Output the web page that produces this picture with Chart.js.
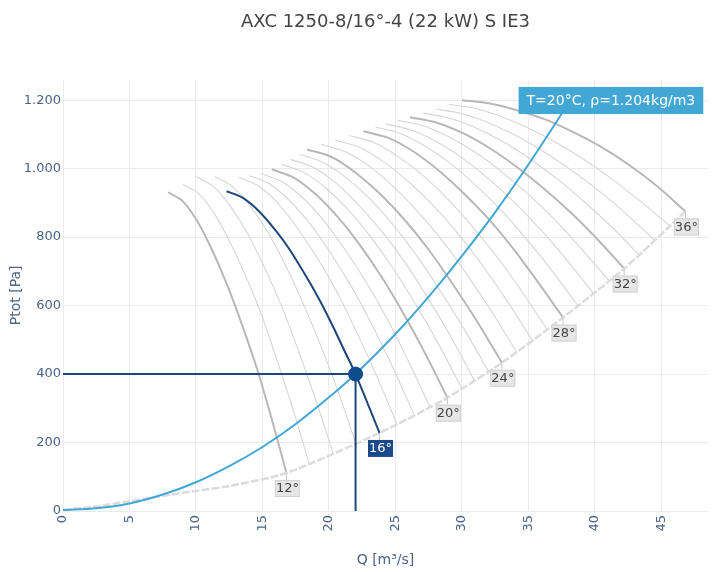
<!DOCTYPE html>
<html>
<head>
<meta charset="utf-8">
<script src="https://cdn.jsdelivr.net/npm/chart.js@4.4.1/dist/chart.umd.min.js"></script>
<style>
  html, body { margin: 0; padding: 0; background: #fff; }
  #wrap { width: 716px; height: 572px; }
</style>
</head>
<body>
<div id="wrap"><canvas id="fanChart"></canvas></div>
<script>
// blade angle curves (gray), 16° is the selected one (blue)
var fanAngles = [12, 13, 14, 15, 17, 18, 19, 20, 21, 22, 23, 24, 25, 26, 27, 28, 29, 30, 31, 32, 33, 34, 35, 36];
var thickAngles = [12, 20, 24, 28, 32, 36];
var fanQ = [
    [7.9, 9.0, 10.1, 11.2, 12.35, 13.45, 14.6, 15.7, 16.8],
    [9.0, 10.2, 11.4, 12.55, 13.75, 14.95, 16.1, 17.3, 18.5],
    [10.0, 11.3, 12.6, 13.9, 15.15, 16.45, 17.7, 19.0, 20.3],
    [11.4, 12.7, 14.05, 15.4, 16.7, 18.0, 19.35, 20.7, 22.0],
    [13.2, 14.7, 16.2, 17.65, 19.15, 20.65, 22.1, 23.6, 25.1],
    [14.0, 15.55, 17.1, 18.65, 20.2, 21.75, 23.3, 24.85, 26.4],
    [14.9, 16.5, 18.1, 19.7, 21.25, 22.85, 24.45, 26.0, 27.6],
    [15.7, 17.35, 19.0, 20.65, 22.3, 23.95, 25.6, 27.25, 28.9],
    [16.4, 18.1, 19.8, 21.5, 23.2, 24.9, 26.6, 28.3, 30.0],
    [17.1, 18.8, 20.55, 22.25, 24.0, 25.75, 27.45, 29.2, 30.9],
    [17.75, 19.5, 21.3, 23.1, 24.9, 26.65, 28.4, 30.2, 32.0],
    [18.35, 20.2, 22.0, 23.85, 25.7, 27.5, 29.3, 31.15, 33.0],
    [19.4, 21.25, 23.1, 24.9, 26.75, 28.6, 30.4, 32.25, 34.1],
    [20.45, 22.3, 24.15, 26.0, 27.9, 29.75, 31.6, 33.45, 35.3],
    [21.5, 23.35, 25.2, 27.1, 28.95, 30.8, 32.7, 34.55, 36.4],
    [22.6, 24.5, 26.35, 28.2, 30.1, 32.0, 33.85, 35.7, 37.6],
    [23.5, 25.4, 27.3, 29.2, 31.1, 33.0, 34.9, 36.8, 38.7],
    [24.3, 26.25, 28.2, 30.15, 32.1, 34.05, 36.0, 37.95, 39.9],
    [25.2, 27.2, 29.15, 31.15, 33.1, 35.1, 37.1, 39.05, 41.05],
    [26.1, 28.1, 30.15, 32.15, 34.15, 36.15, 38.2, 40.2, 42.2],
    [27.1, 29.1, 31.15, 33.2, 35.2, 37.25, 39.25, 41.3, 43.3],
    [28.0, 30.05, 32.1, 34.2, 36.25, 38.3, 40.4, 42.45, 44.5],
    [29.0, 31.1, 33.15, 35.2, 37.3, 39.4, 41.45, 43.5, 45.6],
    [30.0, 32.1, 34.2, 36.3, 38.4, 40.5, 42.6, 44.7, 46.8]
];
var fanP = [
    [931, 905, 846, 763, 660, 545, 414, 268, 111],
    [954, 927, 867, 786, 685, 571, 440, 296, 140],
    [977, 948, 889, 809, 711, 597, 468, 325, 170],
    [977, 949, 892, 815, 720, 611, 486, 348, 199],
    [975, 949, 897, 825, 737, 636, 521, 393, 255],
    [980, 955, 904, 835, 749, 651, 539, 415, 281],
    [986, 961, 912, 844, 761, 665, 556, 435, 304],
    [998, 974, 925, 859, 778, 684, 577, 459, 331],
    [1013, 989, 942, 877, 797, 704, 599, 483, 357],
    [1027, 1004, 957, 893, 815, 724, 621, 507, 383],
    [1042, 1019, 973, 910, 832, 743, 641, 529, 407],
    [1056, 1034, 988, 926, 850, 763, 663, 553, 433],
    [1071, 1049, 1005, 945, 871, 786, 689, 581, 465],
    [1083, 1062, 1019, 961, 890, 808, 714, 610, 498],
    [1097, 1077, 1035, 979, 910, 830, 739, 639, 530],
    [1109, 1089, 1050, 996, 929, 853, 766, 669, 565],
    [1121, 1102, 1064, 1013, 949, 876, 792, 700, 600],
    [1130, 1112, 1076, 1027, 967, 897, 818, 730, 635],
    [1141, 1124, 1090, 1044, 987, 921, 846, 763, 673],
    [1150, 1134, 1102, 1058, 1004, 942, 871, 793, 708],
    [1162, 1147, 1117, 1076, 1026, 967, 901, 828, 749],
    [1174, 1160, 1132, 1094, 1047, 993, 932, 864, 790],
    [1188, 1175, 1149, 1114, 1071, 1021, 965, 902, 834],
    [1200, 1190, 1170, 1143, 1106, 1063, 1010, 948, 875]
];

var blueQ = [12.3, 13.5, 14.75, 16.0, 17.0, 18.5, 19.4, 20.3, 21.2, 22.0, 23.8];
var blueP = [934, 915, 875, 819, 766, 671, 608, 539, 465, 400, 228];

// lower limit line through curve ends
var boundQ = [0, 2.8, 8.8, 12.5, 16.8, 23.8, 28.9, 33.0, 37.6, 42.2, 46.8];
var boundP = [3, 15, 52, 73, 111, 228, 331, 433, 565, 708, 875];

// system curve
var sysQ = [0, 2.5, 5, 7.5, 10, 12.5, 15, 17.5, 20, 22, 25, 27.5, 30, 32.5, 35, 38];
var sysP = [3, 8, 22, 48, 84, 131, 187, 254, 332, 400, 517, 626, 745, 873, 1012, 1190];

var opQ = 22;
var opP = 400;

var labelAngles = [12, 16, 20, 24, 28, 32, 36];
var labelQ = [16.8, 23.8, 28.9, 33.0, 37.6, 42.2, 46.8];
var labelP = [111, 228, 331, 433, 565, 708, 875];

var airText = 'T=20°C, ρ=1.204kg/m3';
var airQ = 41.2;
var airP = 1199;

var FONT = '"DejaVu Sans", Verdana, sans-serif';
var BLUE = '#1d4679';
var SKY = '#42a7d5';

function pts(qs, ps) {
    return qs.map(function (q, i) { return { x: q, y: ps[i] }; });
}

var datasets = [];

datasets.push({ data: [{ x: opQ, y: opP }], showLine: false, pointRadius: 7, pointBackgroundColor: '#0f4c8e', pointBorderColor: '#0f4c8e', order: 0 });
datasets.push({ data: [{ x: 0, y: opP }, { x: opQ, y: opP }], borderColor: BLUE, borderWidth: 2, pointRadius: 0, order: 1 });
datasets.push({ data: [{ x: opQ, y: opP }, { x: opQ, y: 0 }], borderColor: BLUE, borderWidth: 2, pointRadius: 0, order: 1 });
datasets.push({ data: pts(blueQ, blueP), borderColor: BLUE, borderWidth: 2, pointRadius: 0, tension: 0.3, order: 2 });
datasets.push({ data: pts(sysQ, sysP), borderColor: SKY, borderWidth: 2, pointRadius: 0, tension: 0.3, order: 3 });
datasets.push({ data: pts(boundQ, boundP), borderColor: '#dcdcdc', borderWidth: 2.5, borderDash: [8, 2], pointRadius: 0, tension: 0.25, order: 4 });

fanAngles.forEach(function (a, i) {
    var thick = thickAngles.indexOf(a) >= 0;
    datasets.push({
        data: pts(fanQ[i], fanP[i]),
        borderColor: thick ? '#b8b8b8' : '#d6d6d6',
        borderWidth: thick ? 2 : 1.1,
        pointRadius: 0,
        tension: 0.3,
        order: thick ? 5 : 6
    });
});

var labelPlugin = {
    id: 'fanLabels',
    afterDatasetsDraw: function (chart) {
        var ctx = chart.ctx, x = chart.scales.x, y = chart.scales.y;
        ctx.save();
        ctx.font = '13px ' + FONT;
        ctx.textAlign = 'center';
        ctx.textBaseline = 'middle';
        labelAngles.forEach(function (a, i) {
            var px = x.getPixelForValue(labelQ[i]);
            var py = y.getPixelForValue(labelP[i]);
            var txt = a + '°';
            var w = ctx.measureText(txt).width + 2, h = 17;
            var cx = px + 1, top = py + 7;
            ctx.strokeStyle = '#c8c8c8';
            ctx.lineWidth = 1;
            ctx.beginPath();
            ctx.moveTo(px, py);
            ctx.lineTo(px, top);
            ctx.stroke();
            ctx.fillStyle = a === 16 ? '#1b4a8a' : '#e6e6e6';
            ctx.fillRect(cx - w / 2, top, w, h);
            if (a !== 16) {
                ctx.strokeStyle = '#d2d2d2';
                ctx.strokeRect(cx - w / 2 + 0.5, top + 0.5, w - 1, h - 1);
            }
            ctx.fillStyle = a === 16 ? '#ffffff' : '#444444';
            ctx.fillText(txt, cx, top + h / 2 + 0.5);
        });

        ctx.font = '14px ' + FONT;
        var tw = ctx.measureText(airText).width + 16, th = 27;
        var ax = x.getPixelForValue(airQ), ay = y.getPixelForValue(airP);
        ctx.fillStyle = SKY;
        ctx.fillRect(ax - tw / 2, ay - th / 2, tw, th);
        ctx.fillStyle = '#ffffff';
        ctx.fillText(airText, ax, ay + 0.5);
        ctx.restore();
    }
};

new Chart(document.getElementById('fanChart'), {
    type: 'line',
    data: { datasets: datasets },
    options: {
        responsive: true,
        maintainAspectRatio: false,
        animation: false,
        layout: { padding: { left: 0, right: 6, top: 0, bottom: 0 } },
        plugins: {
            legend: { display: false },
            tooltip: { enabled: false },
            title: {
                display: true,
                fullSize: false,
                text: 'AXC 1250-8/16°-4 (22 kW) S IE3',
                color: '#444444',
                font: { family: FONT, size: 18, weight: 'normal' },
                padding: { top: 12, bottom: 46 }
            }
        },
        scales: {
            x: {
                type: 'linear',
                min: 0,
                max: 48.5,
                afterBuildTicks: function (s) { s.ticks = s.ticks.filter(function (t) { return t.value % 5 === 0; }); },
                afterFit: function (s) { s.height = 61; },
                grid: { color: '#ebebeb', drawTicks: false },
                border: { display: false },
                ticks: { stepSize: 5, autoSkip: false, minRotation: 90, maxRotation: 90, padding: 4, color: '#4a6588', font: { family: FONT, size: 13 } },
                title: { display: true, text: 'Q [m³/s]', color: '#4a6588', font: { family: FONT, size: 14 }, padding: { top: 0, bottom: 3 } }
            },
            y: {
                type: 'linear',
                min: 0,
                max: 1260,
                afterBuildTicks: function (s) { s.ticks = s.ticks.filter(function (t) { return t.value % 200 === 0; }); },
                afterFit: function (s) { s.width = 63; },
                grid: { color: '#ebebeb', drawTicks: false },
                border: { display: false },
                ticks: {
                    stepSize: 200, padding: 2, color: '#4a6588', font: { family: FONT, size: 13 },
                    callback: function (v) { return String(v).replace(/\B(?=(\d{3})+(?!\d))/g, '.'); }
                },
                title: { display: true, text: 'Ptot [Pa]', color: '#4a6588', font: { family: FONT, size: 14 }, padding: { top: 8, bottom: 0 } }
            }
        }
    },
    plugins: [labelPlugin]
});
</script>
</body>
</html>
